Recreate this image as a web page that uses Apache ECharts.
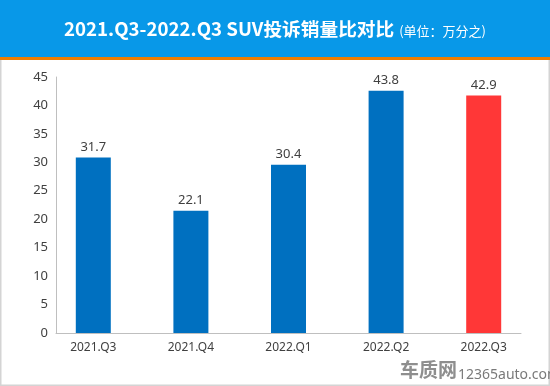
<!DOCTYPE html>
<html><head><meta charset="utf-8">
<script src="https://cdn.jsdelivr.net/npm/echarts@6/dist/echarts.min.js"></script>
<style>html,body{margin:0;padding:0;background:#fff}#c{width:550px;height:386px}</style>
</head><body><div id="c"></div>
<script>
const categories = ['2021.Q3', '2021.Q4', '2022.Q1', '2022.Q2', '2022.Q3'];
const values = [31.7, 22.1, 30.4, 43.8, 42.9];
const yTicks = [0, 5, 10, 15, 20, 25, 30, 35, 40, 45];
const titleMain = '2021.Q3-2022.Q3 SUV投诉销量比对比';
const titleUnit = '(单位：万分之)';

const BLUE = '#0070c0', RED = '#ff3737';
const chart = echarts.init(document.getElementById('c'));
const numFont = "'Noto Sans', 'Noto Sans CJK SC', sans-serif";
chart.setOption({
  backgroundColor: '#ffffff',
  animation: false,
  graphic: [
    { type: 'rect', shape: { x: 0.5, y: 0.5, width: 549, height: 385 }, style: { fill: 'none', stroke: '#d4d4d4', lineWidth: 2 }, z: 0 },
    { type: 'rect', shape: { x: 0, y: 0, width: 550, height: 57 }, style: { fill: '#0898e8' }, z: 1 },
    { type: 'rect', shape: { x: 0, y: 57, width: 550, height: 3 }, style: { fill: '#f07d00' }, z: 1 },
    { type: 'text', left: 400, top: 360, style: { text: '车质网', fill: '#8e8e8e', font: "bold 19px 'Noto Sans CJK SC', sans-serif" }, z: 2 },
    { type: 'text', left: 458, top: 368, style: { text: '12365auto.com', fill: '#7a7a7a', font: "14px " + numFont }, z: 2 }
  ],
  title: {
    left: 'center', top: 15,
    text: '{a|' + titleMain + '} {b|' + titleUnit + '}',
    textStyle: {
      rich: {
        a: { color: '#ffffff', fontSize: 18.7, fontWeight: 'bold', fontFamily: "'Noto Sans CJK SC', sans-serif" },
        b: { color: '#ffffff', fontSize: 13, fontWeight: 'normal', fontFamily: "'Noto Sans CJK SC', sans-serif", padding: [3, 0, 0, 0] }
      }
    },
    z: 5
  },
  grid: [
    { left: 44.5, width: 488, top: 84, height: 249 },
    { left: 56, width: 465, top: 77, height: 256 }
  ],
  xAxis: [
    { type: 'category', gridIndex: 0, data: categories,
      axisLine: { show: false }, axisTick: { show: false },
      axisLabel: { color: '#404040', fontSize: 12, margin: 9, fontFamily: numFont } },
    { type: 'category', gridIndex: 1, data: categories,
      axisLine: { show: true, lineStyle: { color: '#bfbfbf', width: 1 } }, axisTick: { show: false },
      axisLabel: { show: false } }
  ],
  yAxis: [
    { type: 'value', gridIndex: 0, min: 0, max: 45, interval: 5, show: false, splitLine: { show: false } },
    { type: 'value', gridIndex: 1, min: yTicks[0], max: yTicks[yTicks.length - 1], interval: yTicks[1] - yTicks[0],
      axisLine: { show: true, lineStyle: { color: '#bfbfbf', width: 1 } }, axisTick: { show: false },
      splitLine: { show: false },
      axisLabel: { color: '#404040', fontSize: 13, margin: 8, fontFamily: numFont } }
  ],
  series: [{
    type: 'bar', xAxisIndex: 0, yAxisIndex: 0,
    barWidth: 35,
    data: values.map((v, i) => ({ value: v, itemStyle: { color: i === values.length - 1 ? RED : BLUE } })),
    label: { show: true, position: 'top', distance: 4, color: '#404040', fontSize: 13, fontFamily: numFont }
  }]
});
</script></body></html>
